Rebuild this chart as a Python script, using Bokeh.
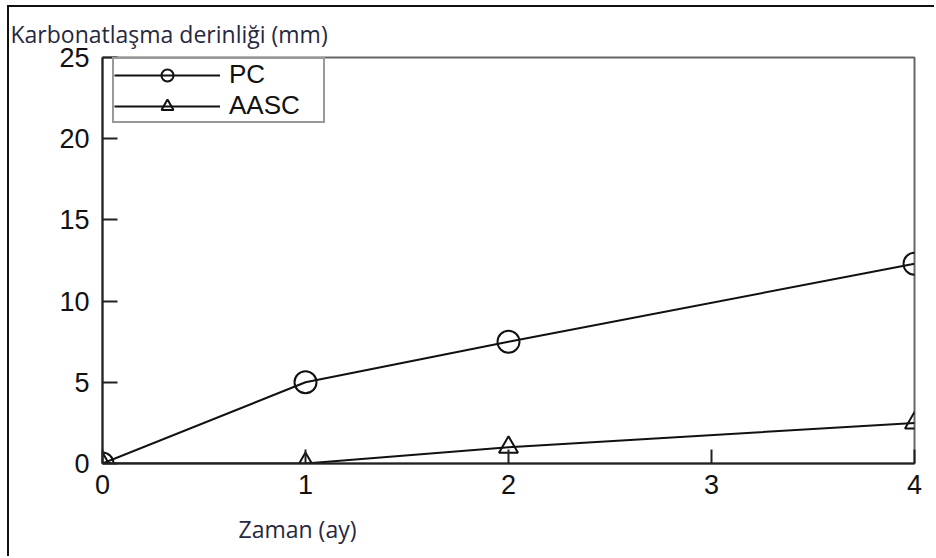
from bokeh.plotting import figure
from bokeh.models import Legend, LegendItem, FixedTicker, Range1d, Title
from bokeh.embed import file_html
from bokeh.resources import INLINE

# data
months = [0, 1, 2, 4]
pc = [0, 5, 7.5, 12.3]
aasc = [0, 0, 1, 2.5]
x_ticks = [0, 1, 2, 3, 4]
y_ticks = [0, 5, 10, 15, 20, 25]
y_title = "Karbonatlaşma derinliği (mm)"
x_title = "Zaman (ay)"

p = figure(width=927, height=551, output_backend="svg", toolbar_location=None,
           x_range=Range1d(0, 4), y_range=Range1d(0, 25),
           min_border_left=93, min_border_right=22, min_border_top=50, min_border_bottom=95,
           margin=(5, 0, 0, 7))
p.styles = {"border-left": "2px solid #111", "border-top": "2px solid #111"}

p.grid.visible = False
p.outline_line_color = "#666666"
p.outline_line_width = 2
p.background_fill_color = "white"
p.border_fill_color = "white"

for ax in (p.xaxis[0], p.yaxis[0]):
    ax.axis_line_color = "#222222"
    ax.axis_line_width = 2
    ax.major_tick_line_color = "#222222"
    ax.major_tick_line_width = 2
    ax.minor_tick_line_color = None
    ax.major_tick_out = 0
    ax.major_label_text_font = "Liberation Sans"
    ax.major_label_text_font_size = "27px"
    ax.major_label_text_color = "#111111"

p.xaxis[0].ticker = FixedTicker(ticks=x_ticks)
p.yaxis[0].ticker = FixedTicker(ticks=y_ticks)
p.xaxis[0].major_tick_in = 14
p.yaxis[0].major_tick_in = 15
p.xaxis[0].major_label_standoff = 11
p.yaxis[0].major_label_standoff = 13

l1 = p.line(months, pc, line_color="#111111", line_width=2)
m1 = p.scatter(months, pc, marker="circle", size=22, fill_color=None, line_color="#111111", line_width=2)
l2 = p.line(months, aasc, line_color="#111111", line_width=2)
m2 = p.scatter(months, aasc, marker="triangle", size=19, fill_color=None, line_color="#111111", line_width=2)

legend = Legend(items=[LegendItem(label="PC", renderers=[l1, m1]),
                       LegendItem(label="AASC", renderers=[l2, m2])],
                location=(10, 340), glyph_width=106, glyph_height=30,
                label_text_font="Liberation Sans", label_text_font_size="26px",
                label_text_color="#111111", label_standoff=9, label_height=26,
                label_width=94, padding=0, spacing=-12, margin=0,
                border_line_color="#333333", border_line_width=2,
                background_fill_color="white", background_fill_alpha=1)
p.add_layout(legend, "center")

p.add_layout(Title(text=y_title, align="left", offset=-92, standoff=16,
                   text_font="Open Sans", text_font_size="23px", text_font_style="normal",
                   text_color="#26283f"), "above")
p.add_layout(Title(text=x_title, align="left", offset=136, standoff=28,
                   text_font="Open Sans", text_font_size="23px", text_font_style="normal",
                   text_color="#26283f"), "below")

open("out.html", "w").write(file_html(p, INLINE))
